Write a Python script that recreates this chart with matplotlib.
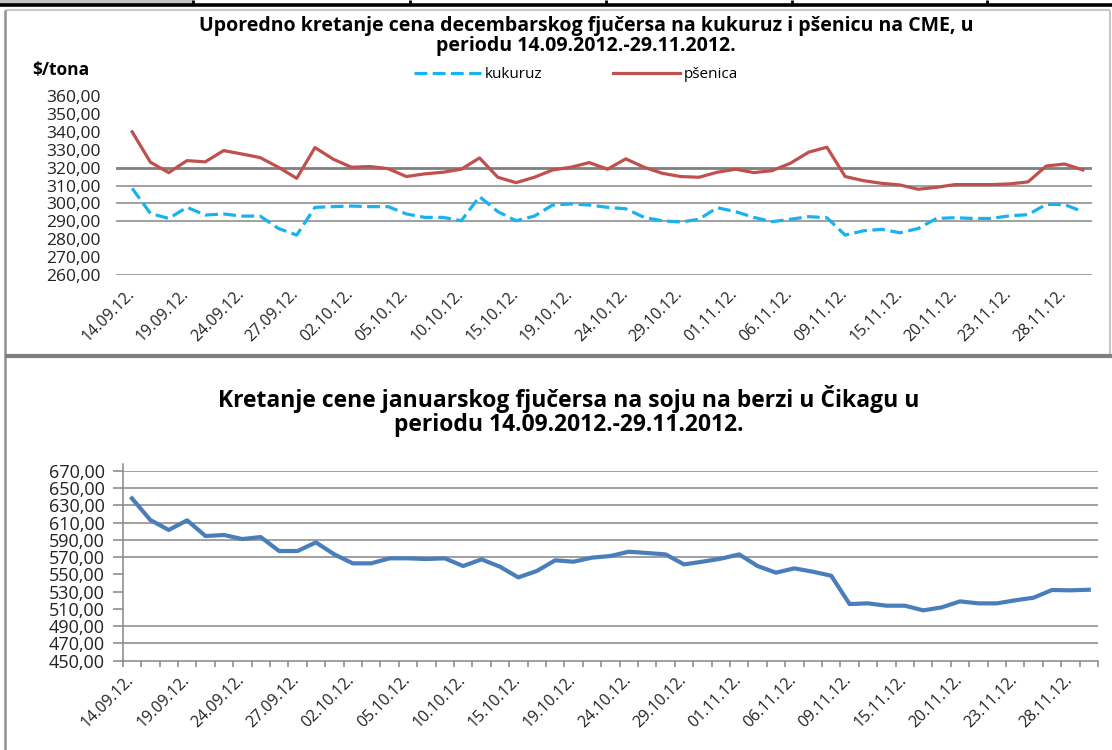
import matplotlib
matplotlib.use("Agg")
import matplotlib.pyplot as plt
from matplotlib.lines import Line2D
from matplotlib.patches import Rectangle
from matplotlib.ticker import FuncFormatter
from matplotlib.transforms import ScaledTranslation

plt.rcParams['font.family'] = ['Open Sans', 'DejaVu Sans']

# datumi (prikazan svaki treci dan trgovanja)
date_labels = ['14.09.12.', '19.09.12.', '24.09.12.', '27.09.12.', '02.10.12.', '05.10.12.',
               '10.10.12.', '15.10.12.', '19.10.12.', '24.10.12.', '29.10.12.', '01.11.12.',
               '06.11.12.', '09.11.12.', '15.11.12.', '20.11.12.', '23.11.12.', '28.11.12.']
label_pos = list(range(0, 53, 3))

# decembarski fjucers, $/tona
psenica = [340.0, 323.0, 317.2, 323.9, 323.2, 329.5, 327.6, 325.6, 320.2, 314.0,
           331.2, 324.7, 320.2, 320.6, 319.4, 315.0, 316.5, 317.4, 319.1, 325.4,
           314.6, 311.6, 314.6, 318.7, 320.2, 322.8, 319.1, 324.9, 320.2, 316.8,
           315.0, 314.6, 317.4, 319.1, 317.2, 318.3, 322.4, 328.6, 331.4, 315.0,
           312.7, 311.2, 310.3, 307.9, 309.0, 310.5, 310.5, 310.5, 310.9, 312.0,
           320.9, 322.0, 318.7]
kukuruz = [308.4, 294.4, 291.6, 297.8, 293.5, 294.1, 292.9, 292.9, 286.0, 282.3,
           297.8, 298.2, 298.5, 298.2, 298.2, 294.1, 292.2, 292.2, 290.3, 303.8,
           295.4, 290.3, 292.9, 299.1, 299.7, 299.1, 297.8, 297.0, 292.2, 290.3,
           289.6, 291.1, 297.6, 295.4, 292.2, 289.8, 291.1, 292.6, 292.0, 282.3,
           284.7, 285.5, 283.6, 286.0, 291.6, 292.0, 291.6, 291.6, 293.1, 293.7,
           299.5, 299.3, 295.4]
# januarski fjucers na soju
soja = [638.3, 613.2, 601.6, 612.8, 594.6, 595.8, 591.1, 593.4, 577.2, 577.2,
        587.2, 573.3, 562.9, 562.9, 568.7, 568.7, 567.9, 568.7, 559.8, 567.5,
        559.0, 546.6, 554.0, 566.4, 564.8, 569.5, 571.4, 576.4, 574.9, 573.3,
        561.7, 564.8, 568.3, 573.3, 559.8, 552.1, 557.1, 553.2, 548.6, 515.7,
        516.5, 513.8, 513.8, 508.4, 511.8, 518.8, 516.5, 516.5, 520.0, 523.1,
        532.0, 531.6, 532.3]

yticks_top = [260, 270, 280, 290, 300, 310, 320, 330, 340, 350, 360]
yticks_bottom = [450, 470, 490, 510, 530, 550, 570, 590, 610, 630, 650, 670]
grid_top = [290, 300, 310]
grid_bottom = [470, 490, 570, 590, 610, 630, 650, 670]

W, H = 1112, 750
GRID = '#868686'
fig = plt.figure(figsize=(W / 100, H / 100), dpi=100)


def fx(x):
    return x / W


def fy(y):
    return 1 - y / H


def pline(x0, y0, x1, y1, color, lw):
    fig.add_artist(Line2D([fx(x0), fx(x1)], [fy(y0), fy(y1)], color=color, lw=lw,
                          transform=fig.transFigure, solid_capstyle='butt'))


def rotate_labels(ax):
    shift = ScaledTranslation(-6 / 100, 0, fig.dpi_scale_trans)
    for lbl in ax.get_xticklabels():
        lbl.set_rotation(45)
        lbl.set_ha('right')
        lbl.set_va('top')
        lbl.set_rotation_mode('anchor')
        lbl.set_transform(lbl.get_transform() + shift)


# okvir strane / tabele
fig.add_artist(Rectangle((0, fy(4)), fx(193), fy(0) - fy(4), color='#c4c4c4',
                         transform=fig.transFigure, lw=0))
pline(0, 5, W, 5, 'black', 2.6)
for xd in [193, 410, 606, 792, 987]:
    pline(xd, 0, xd, 5, 'black', 2.0)
pline(5, 10, 1110, 10, '#c8c8c8', 1.5)
pline(1110, 10, 1110, 355, '#c8c8c8', 1.5)
pline(5, 10, 5, H, '#909090', 1.8)
pline(5, 356, W, 356, '#808080', 3.0)

comma = FuncFormatter(lambda v, p: f'{v:.2f}'.replace('.', ','))

# ---- gornji grafikon: kukuruz i psenica ----
ax1 = fig.add_axes([fx(115.7), fy(275), fx(976.3), 179 / H])
x = list(range(len(psenica)))
ax1.plot(x, kukuruz, color='#17b2ef', lw=2.3, ls=(0, (4, 1.7)), label='kukuruz')
ax1.plot(x, psenica, color='#c0504d', lw=2.3, label='pšenica')
ax1.set_xlim(-0.9, 52.5)
ax1.set_ylim(260, 360)
for s in ax1.spines.values():
    s.set_visible(False)
for v in grid_top:
    ax1.axhline(v, color=GRID, lw=1.1, zorder=0)
ax1.axhline(320, color='#808080', lw=2.0, zorder=0)
ax1.axhline(260, color=GRID, lw=1.1, zorder=0)
ax1.set_yticks(yticks_top)
ax1.yaxis.set_major_formatter(comma)
ax1.tick_params(axis='y', length=0, pad=11, labelsize=12.5, labelcolor='#222222')
ax1.set_xticks(label_pos, labels=date_labels)
ax1.tick_params(axis='x', length=0, pad=8, labelsize=11.5, labelcolor='#222222')
rotate_labels(ax1)

fig.text(fx(586), fy(36), 'Uporedno kretanje cena decembarskog fjučersa na kukuruz i pšenicu na CME, u\n'
         'periodu 14.09.2012.-29.11.2012.', ha='center', va='center', fontsize=14,
         fontweight='bold', linespacing=0.95)
fig.text(fx(32), fy(70), '$/tona', ha='left', va='center', fontsize=12.5, fontweight='bold')
ax1.legend(loc='center', bbox_to_anchor=(fx(576), fy(75)), bbox_transform=fig.transFigure,
           ncol=2, frameon=False, fontsize=11, handlelength=4.4, columnspacing=4.6,
           handletextpad=0.25)

# ---- donji grafikon: soja ----
ax2 = fig.add_axes([fx(122.7), fy(660.7), fx(975.3), 189.7 / H])
ax2.plot(list(range(len(soja))), soja, color='#4a7ebb', lw=3.0)
ax2.set_xlim(-0.5, 52.5)
ax2.set_ylim(450, 670)
ax2.spines['top'].set_visible(False)
ax2.spines['right'].set_visible(False)
ax2.spines['left'].set_color(GRID)
ax2.spines['bottom'].set_color(GRID)
ax2.spines['left'].set_linewidth(1.1)
ax2.spines['bottom'].set_linewidth(1.1)
ax2.spines['left'].set_bounds(450, 678)
for v in grid_bottom:
    ax2.axhline(v, color=GRID, lw=1.1, zorder=0)
ax2.set_yticks(yticks_bottom)
ax2.yaxis.set_major_formatter(comma)
ax2.tick_params(axis='y', length=7, width=1.1, color=GRID, pad=6, labelsize=13,
                labelcolor='#222222')
ax2.set_xticks(label_pos, labels=date_labels)
ax2.set_xticks([i - 0.5 for i in range(len(soja) + 1)], minor=True)
ax2.tick_params(axis='x', which='major', length=0, pad=8, labelsize=11.5, labelcolor='#222222')
ax2.tick_params(axis='x', which='minor', length=4.5, width=1.1, color=GRID)
rotate_labels(ax2)

fig.text(fx(569), fy(411), 'Kretanje cene januarskog fjučersa na soju na berzi u Čikagu u\n'
         'periodu 14.09.2012.-29.11.2012.', ha='center', va='center', fontsize=16.5,
         fontweight='bold', linespacing=1.05)

fig.savefig('out.png', dpi=100, facecolor='white')
